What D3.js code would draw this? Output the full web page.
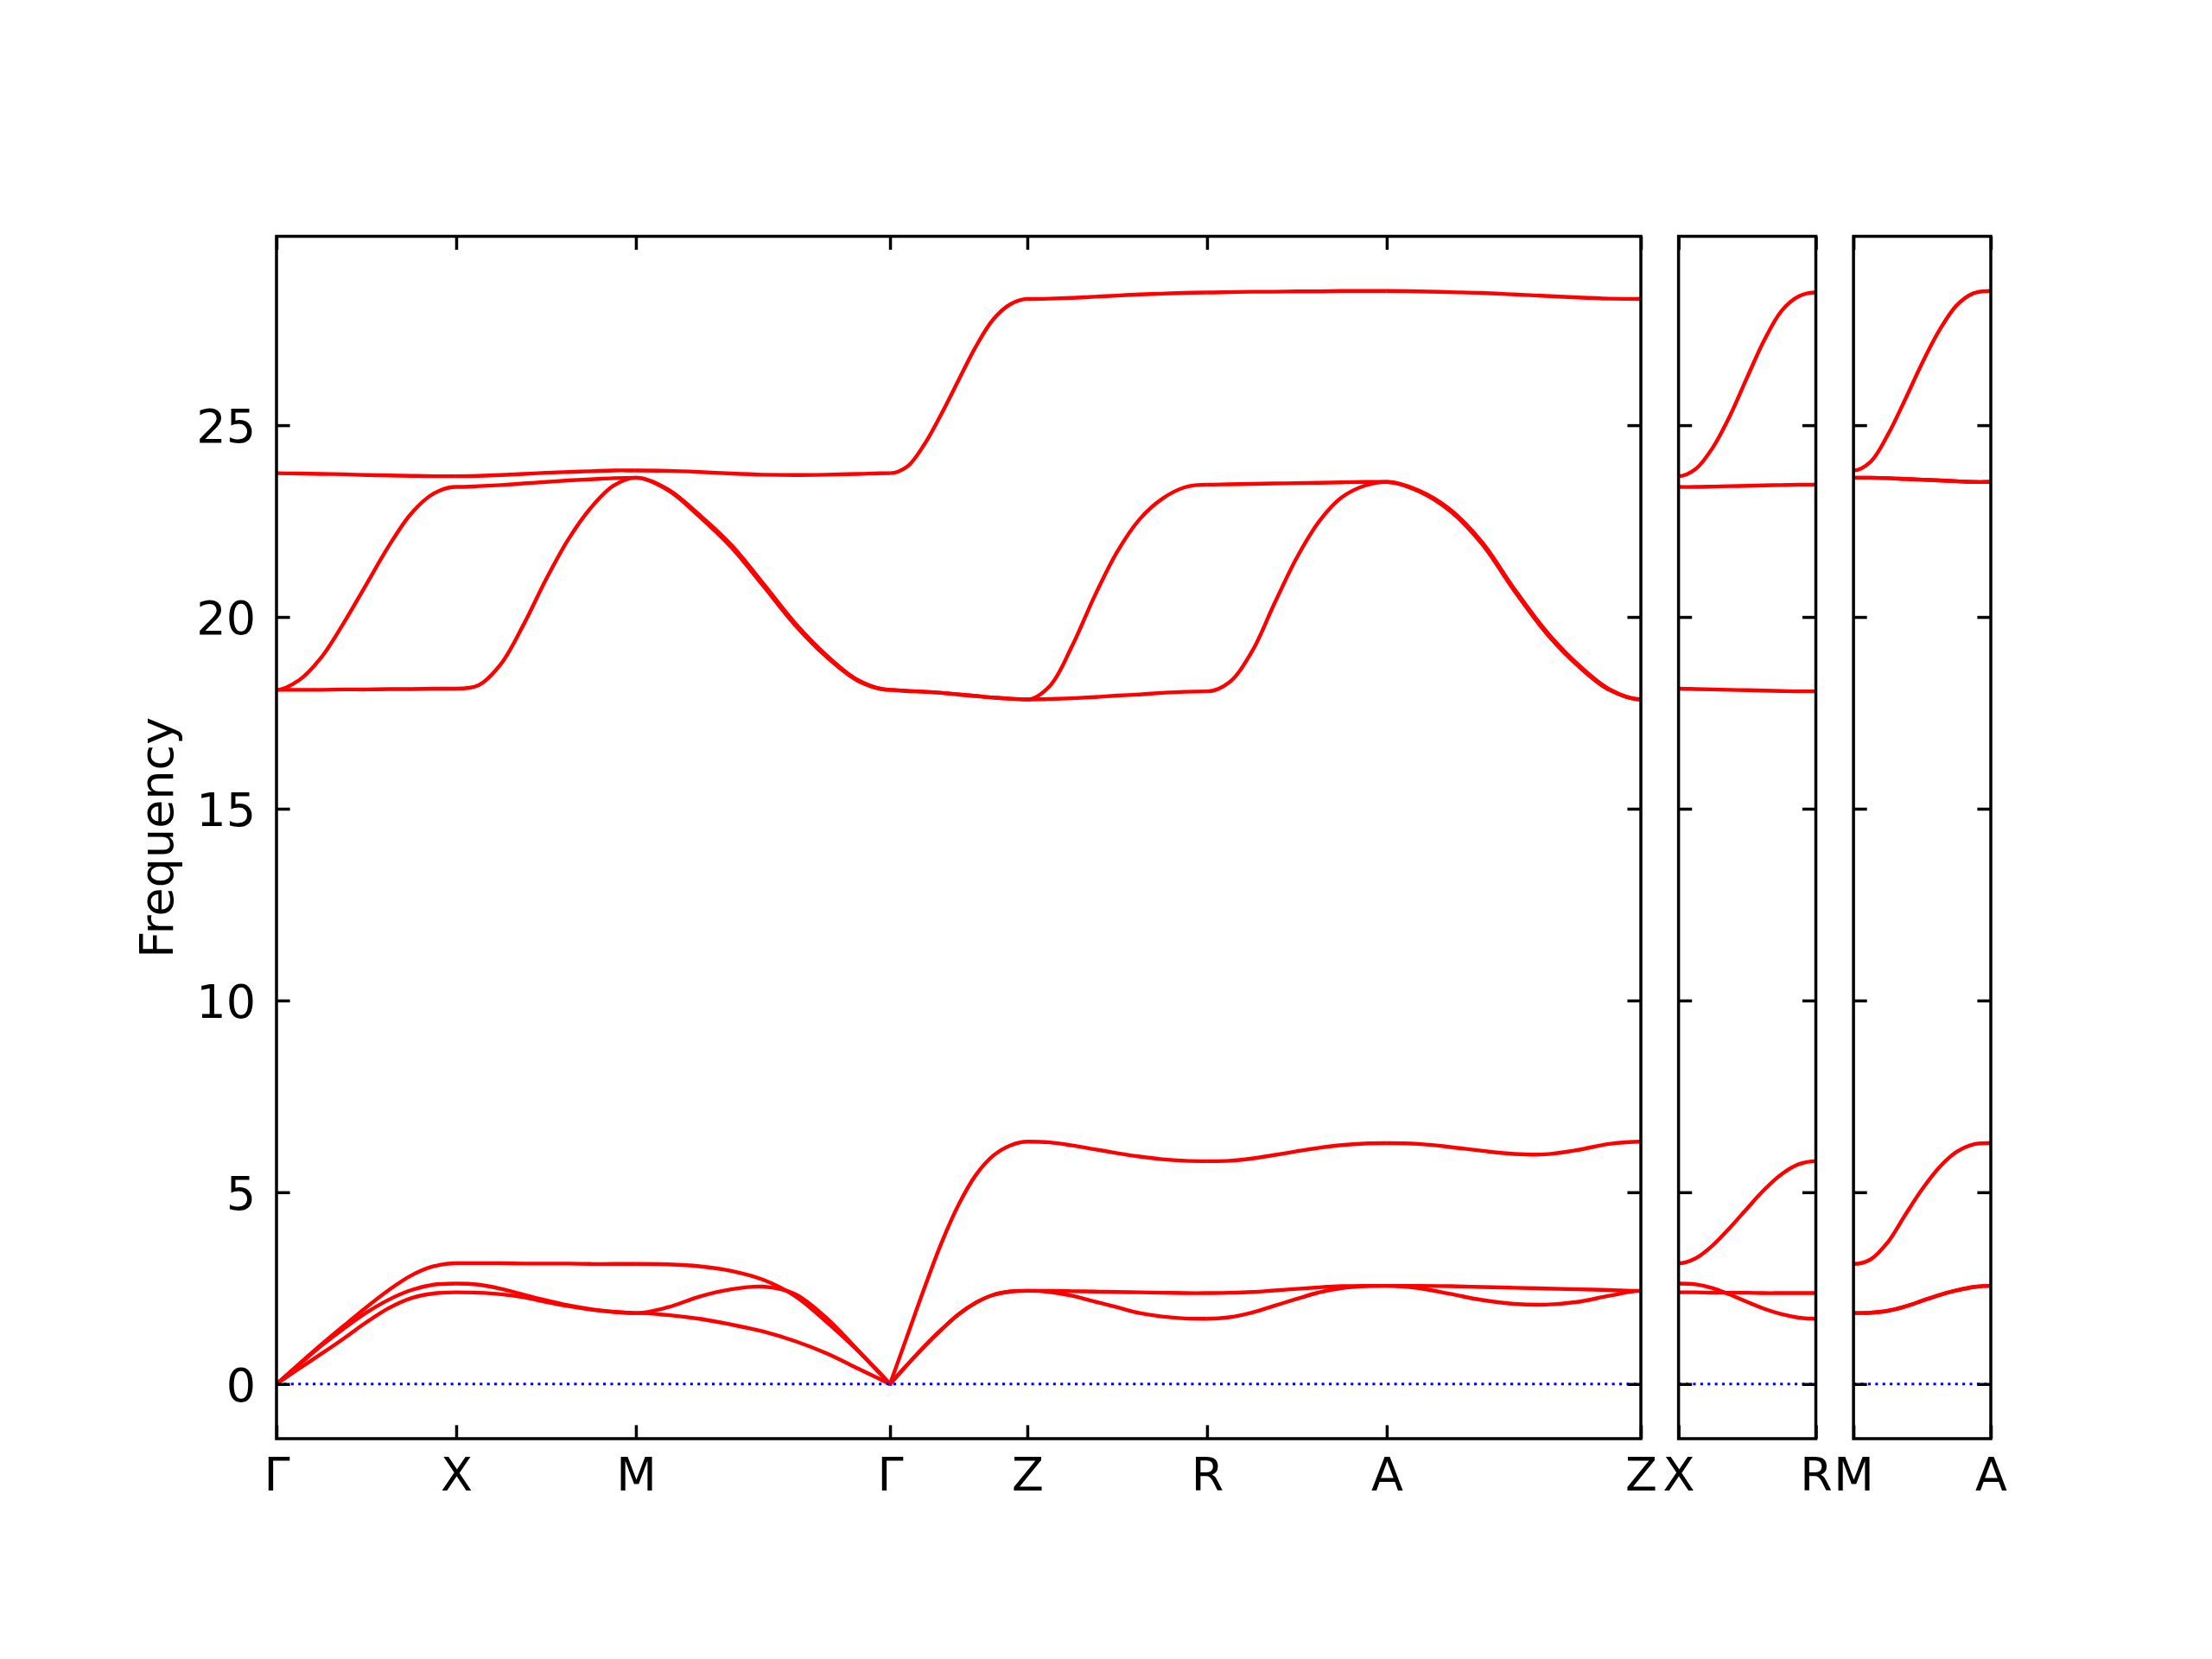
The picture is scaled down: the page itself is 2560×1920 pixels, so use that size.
<!DOCTYPE html>
<html>
<head>
<meta charset="utf-8">
<script src="https://cdn.jsdelivr.net/npm/d3@7"></script>
<style>
  body { margin: 0; background: #fff; }
  svg { display: block; }
</style>
</head>
<body>
<svg id="chart" width="2560" height="1920"></svg>
<script>
// ---------------- DATA ----------------
// sample positions (fraction along each path segment)
const fractions = [0, 0.125, 0.25, 0.375, 0.5, 0.625, 0.75, 0.875, 1];

// segments of the q-path: start/end labels, length (reciprocal-space distance), panel index
const segmentStart  = ["Γ", "X", "M", "Γ", "Z", "R", "A", "X", "M"];
const segmentEnd    = ["X", "M", "Γ", "Z", "R", "A", "Z", "R", "A"];
const segmentLength = [0.5, 0.5, 0.70711, 0.382, 0.5, 0.5, 0.70711, 0.382, 0.382];
const segmentPanel  = [0, 0, 0, 0, 0, 0, 0, 1, 2];

// frequencies of the six bands (lowest -> highest) on each segment
const segGammaX = [
  [0, 0.40, 0.79, 1.19, 1.61, 1.98, 2.24, 2.36, 2.39],
  [0, 0.50, 1.00, 1.45, 1.86, 2.20, 2.45, 2.59, 2.62],
  [0, 0.52, 1.03, 1.52, 2.00, 2.45, 2.83, 3.07, 3.15],
  [18.10, 18.10, 18.10, 18.11, 18.11, 18.12, 18.12, 18.13, 18.13],
  [18.10, 18.35, 18.95, 19.85, 20.85, 21.85, 22.70, 23.22, 23.39],
  [23.75, 23.74, 23.73, 23.72, 23.70, 23.69, 23.68, 23.67, 23.67]
];
const segXM = [
  [2.39, 2.38, 2.34, 2.26, 2.14, 2.03, 1.94, 1.88, 1.85],
  [2.62, 2.59, 2.48, 2.33, 2.18, 2.05, 1.95, 1.88, 1.85],
  [3.15, 3.15, 3.15, 3.14, 3.14, 3.14, 3.13, 3.13, 3.13],
  [18.13, 18.22, 18.78, 19.80, 20.98, 22.03, 22.85, 23.42, 23.63],
  [23.39, 23.41, 23.44, 23.48, 23.52, 23.56, 23.59, 23.62, 23.63],
  [23.67, 23.68, 23.70, 23.73, 23.76, 23.78, 23.80, 23.82, 23.82]
];
const segMGamma = [
  [1.85, 1.80, 1.70, 1.55, 1.37, 1.12, 0.80, 0.40, 0],
  [1.85, 2.00, 2.28, 2.47, 2.54, 2.35, 1.72, 0.87, 0],
  [3.13, 3.12, 3.07, 2.95, 2.72, 2.30, 1.62, 0.86, 0],
  [23.63, 23.31, 22.62, 21.82, 20.82, 19.80, 18.96, 18.33, 18.10],
  [23.63, 23.33, 22.66, 21.88, 20.88, 19.85, 19.00, 18.35, 18.10],
  [23.82, 23.81, 23.78, 23.74, 23.71, 23.70, 23.71, 23.73, 23.75]
];
const segGammaZ = [
  [0, 0.50, 0.98, 1.42, 1.82, 2.12, 2.32, 2.41, 2.43],
  [0, 0.50, 0.98, 1.42, 1.82, 2.12, 2.32, 2.41, 2.43],
  [0, 1.25, 2.50, 3.68, 4.68, 5.45, 5.95, 6.22, 6.32],
  [18.10, 18.07, 18.05, 18.02, 17.98, 17.94, 17.90, 17.87, 17.85],
  [18.10, 18.07, 18.05, 18.02, 17.98, 17.94, 17.90, 17.87, 17.85],
  [23.75, 23.92, 24.50, 25.30, 26.18, 27.05, 27.75, 28.15, 28.29]
];
const segZR = [
  [2.43, 2.40, 2.30, 2.15, 2.00, 1.85, 1.76, 1.71, 1.70],
  [2.43, 2.43, 2.42, 2.41, 2.40, 2.39, 2.38, 2.37, 2.37],
  [6.32, 6.30, 6.22, 6.12, 6.02, 5.93, 5.86, 5.82, 5.81],
  [17.85, 17.86, 17.88, 17.91, 17.95, 17.98, 18.02, 18.05, 18.06],
  [17.85, 18.20, 19.25, 20.55, 21.70, 22.55, 23.08, 23.38, 23.45],
  [28.29, 28.30, 28.32, 28.35, 28.38, 28.41, 28.43, 28.45, 28.46]
];
const segRA = [
  [1.70, 1.74, 1.86, 2.04, 2.22, 2.39, 2.50, 2.55, 2.56],
  [2.37, 2.38, 2.40, 2.44, 2.48, 2.52, 2.55, 2.56, 2.56],
  [5.81, 5.82, 5.88, 5.97, 6.07, 6.16, 6.23, 6.27, 6.28],
  [18.06, 18.30, 19.10, 20.35, 21.55, 22.50, 23.12, 23.42, 23.52],
  [23.45, 23.46, 23.47, 23.48, 23.49, 23.50, 23.51, 23.52, 23.52],
  [28.46, 28.47, 28.48, 28.48, 28.49, 28.49, 28.50, 28.50, 28.50]
];
const segAZ = [
  [2.56, 2.50, 2.35, 2.19, 2.09, 2.07, 2.14, 2.30, 2.43],
  [2.56, 2.56, 2.55, 2.53, 2.51, 2.49, 2.47, 2.45, 2.43],
  [6.28, 6.26, 6.18, 6.08, 6.00, 5.99, 6.10, 6.26, 6.32],
  [23.52, 23.28, 22.76, 21.90, 20.70, 19.60, 18.74, 18.10, 17.85],
  [23.52, 23.30, 22.80, 21.95, 20.75, 19.65, 18.78, 18.12, 17.85],
  [28.50, 28.49, 28.47, 28.45, 28.41, 28.37, 28.33, 28.30, 28.29]
];
const segXR = [
  [2.39, 2.39, 2.38, 2.38, 2.38, 2.37, 2.37, 2.37, 2.37],
  [2.62, 2.60, 2.50, 2.33, 2.14, 1.96, 1.82, 1.73, 1.70],
  [3.15, 3.28, 3.62, 4.08, 4.58, 5.07, 5.47, 5.73, 5.81],
  [18.13, 18.12, 18.11, 18.10, 18.09, 18.08, 18.07, 18.06, 18.06],
  [23.39, 23.39, 23.40, 23.41, 23.42, 23.43, 23.44, 23.45, 23.45],
  [23.67, 23.86, 24.42, 25.25, 26.25, 27.22, 27.98, 28.36, 28.46]
];
const segMA = [
  [1.85, 1.86, 1.91, 2.02, 2.17, 2.32, 2.44, 2.53, 2.56],
  [1.85, 1.86, 1.91, 2.02, 2.17, 2.32, 2.44, 2.53, 2.56],
  [3.13, 3.25, 3.70, 4.40, 5.08, 5.65, 6.05, 6.25, 6.28],
  [23.63, 23.63, 23.62, 23.60, 23.58, 23.56, 23.54, 23.52, 23.52],
  [23.63, 23.63, 23.62, 23.60, 23.58, 23.56, 23.54, 23.52, 23.52],
  [23.82, 24.05, 24.75, 25.66, 26.62, 27.47, 28.12, 28.44, 28.50]
];
const segmentBands = [segGammaX, segXM, segMGamma, segGammaZ, segZR, segRA, segAZ, segXR, segMA];

const yTicks = [0, 5, 10, 15, 20, 25];
const yDomain = [-1.425, 29.925];
const yLabel = "Frequency";

// ---------------- LAYOUT ----------------
const W = 2560, H = 1920;
const plotLeft = 320, plotRight = 2304, plotTop = 273.5, plotBottom = 1665, panelGap = 43.6;
const tickLen = 15.6, axisW = 3.5, fontSize = 54;
const fontName = "DejaVu Sans";

const svg = d3.select("#chart");
svg.append("rect").attr("width", W).attr("height", H).attr("fill", "#fff");
const defs = svg.append("defs");

const y = d3.scaleLinear().domain(yDomain).range([plotBottom, plotTop]);

const panelIdx = [0, 1, 2].map(p => d3.range(segmentPanel.length).filter(i => segmentPanel[i] === p));
const panelDist = panelIdx.map(idx => d3.sum(idx, i => segmentLength[i]));
const pxPerUnit = (plotRight - plotLeft - 2 * panelGap) / d3.sum(panelDist);

let clipCount = 0;
let xStart = plotLeft;
panelIdx.forEach((idx, p) => {
  const w = panelDist[p] * pxPerUnit;
  const x = d3.scaleLinear().domain([0, panelDist[p]]).range([xStart, xStart + w]);
  const breaks = [0];
  const names = [segmentStart[idx[0]]];
  idx.forEach(i => { breaks.push(breaks[breaks.length - 1] + segmentLength[i]); names.push(segmentEnd[i]); });

  const g = svg.append("g");
  const panelClip = "pclip" + p;
  defs.append("clipPath").attr("id", panelClip).append("rect")
    .attr("x", x(0) - 1).attr("y", plotTop).attr("width", w + 2).attr("height", plotBottom - plotTop);

  const line = d3.line().x(d => x(d[0])).y(d => y(d[1])).curve(d3.curveCatmullRom.alpha(0.5));
  const bandsG = g.append("g").attr("clip-path", `url(#${panelClip})`);
  idx.forEach((si, j) => {
    const start = breaks[j], len = segmentLength[si], end = start + len;
    const nLast = fractions.length - 1;
    segmentBands[si].forEach(vals => {
      // bands are symmetric about high-symmetry points (flat there), except the
      // linear acoustic branches leaving Γ at zero frequency
      const mirrorL = vals[0] !== 0, mirrorR = vals[nLast] !== 0;
      const pts = [];
      if (mirrorL) pts.push([start - fractions[1] * len, vals[1]]);
      vals.forEach((v, n) => pts.push([start + fractions[n] * len, v]));
      if (mirrorR) pts.push([start + (2 - fractions[nLast - 1]) * len, vals[nLast - 1]]);
      const cid = "bclip" + (clipCount++);
      const x1 = mirrorL ? x(start) : x(start) - 20;
      const x2 = mirrorR ? x(end) : x(end) + 20;
      defs.append("clipPath").attr("id", cid).append("rect")
        .attr("x", x1).attr("y", 0).attr("width", x2 - x1).attr("height", H);
      bandsG.append("g").attr("clip-path", `url(#${cid})`)
        .append("path").attr("d", line(pts))
        .attr("fill", "none").attr("stroke", "#ff0000").attr("stroke-width", 4.4)
        .attr("stroke-linejoin", "round").attr("stroke-linecap", "round");
    });
  });

  // zero line
  bandsG.append("line").attr("x1", x(0)).attr("x2", x(panelDist[p]))
    .attr("y1", y(0)).attr("y2", y(0))
    .attr("stroke", "#0000ff").attr("stroke-width", 3.1).attr("stroke-dasharray", "3.1,5.3");

  // axes (inward ticks)
  const styleAxis = sel => {
    sel.select(".domain").remove();
    sel.attr("font-family", fontName).attr("font-size", fontSize);
    sel.selectAll(".tick line").attr("stroke", "#000").attr("stroke-width", axisW);
    sel.selectAll(".tick text").attr("fill", "#000");
  };
  g.append("g").attr("transform", `translate(0,${plotBottom})`)
    .call(d3.axisBottom(x).tickValues(breaks).tickFormat((d, i) => names[i])
      .tickSizeInner(-tickLen).tickSizeOuter(0).tickPadding(21.7))
    .call(styleAxis);
  g.append("g").attr("transform", `translate(0,${plotTop})`)
    .call(d3.axisTop(x).tickValues(breaks).tickFormat("")
      .tickSizeInner(-tickLen).tickSizeOuter(0))
    .call(styleAxis);
  const la = g.append("g").attr("transform", `translate(${x(0)},0)`)
    .call(d3.axisLeft(y).tickValues(yTicks).tickFormat(p === 0 ? d3.format("d") : "")
      .tickSizeInner(-tickLen).tickSizeOuter(0).tickPadding(24))
    .call(styleAxis);
  la.selectAll(".tick text").attr("dy", "0.36em");
  g.append("g").attr("transform", `translate(${x(panelDist[p])},0)`)
    .call(d3.axisRight(y).tickValues(yTicks).tickFormat("")
      .tickSizeInner(-tickLen).tickSizeOuter(0))
    .call(styleAxis);

  // frame
  g.append("rect").attr("x", x(0)).attr("y", plotTop).attr("width", w).attr("height", plotBottom - plotTop)
    .attr("fill", "none").attr("stroke", "#000").attr("stroke-width", axisW);

  xStart += w + panelGap;
});

// y label
svg.append("text")
  .attr("transform", `translate(200,${(plotTop + plotBottom) / 2}) rotate(-90)`)
  .attr("text-anchor", "middle")
  .attr("font-family", fontName).attr("font-size", fontSize).attr("fill", "#000")
  .text(yLabel);
</script>
</body>
</html>
